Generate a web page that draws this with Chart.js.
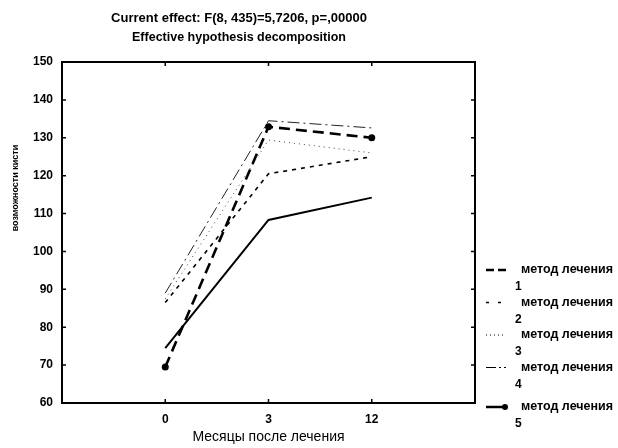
<!DOCTYPE html>
<html>
<head>
<meta charset="utf-8">
<script src="https://cdn.jsdelivr.net/npm/chart.js@4.4.1/dist/chart.umd.min.js"></script>
<style>
  html, body { margin: 0; padding: 0; background: #fff; }
  #wrap { width: 618px; height: 448px; position: relative; }
</style>
</head>
<body>
<div id="wrap"><canvas id="c"></canvas></div>
<script>
// categories (months after treatment) and the five series
const months = ['0', '3', '12'];
const method1 = [74.5, 108.3, 114.2];
const method2 = [86.5, 120.5, 125.0];
const method3 = [87.5, 129.4, 126.0];
const method4 = [89.0, 134.5, 132.6];
const method5 = [69.5, 132.9, 130.0];
const seriesNames = ['метод лечения', 'метод лечения', 'метод лечения', 'метод лечения', 'метод лечения'];
const seriesNums = ['1', '2', '3', '4', '5'];
const yTicks = [60, 70, 80, 90, 100, 110, 120, 130, 140, 150];

const FONT = '"Liberation Sans", Arial, sans-serif';

const toPoints = arr => arr.map((v, i) => ({ x: i, y: v }));

// Title lines and the y-axis caption
const header = {
  id: 'header',
  afterDraw(chart) {
    const ctx = chart.ctx;
    ctx.save();
    ctx.fillStyle = '#000';
    ctx.textAlign = 'center';
    ctx.textBaseline = 'middle';
    ctx.font = 'bold 13px ' + FONT;
    ctx.fillText('Current effect: F(8, 435)=5,7206, p=,00000', 239, 18);
    ctx.font = 'bold 12.5px ' + FONT;
    ctx.fillText('Effective hypothesis decomposition', 239, 38);
    ctx.translate(16, 188);
    ctx.rotate(-Math.PI / 2);
    ctx.font = 'bold 9px ' + FONT;
    ctx.fillText('возможности кисти', 0, 0);
    ctx.restore();
  }
};

// Box round the plot plus the short inward tick marks
const frame = {
  id: 'frame',
  afterDatasetsDraw(chart) {
    const { ctx, chartArea: a, scales: { x, y } } = chart;
    ctx.save();
    ctx.strokeStyle = '#000';
    ctx.lineWidth = 2;
    ctx.strokeRect(a.left, a.top, a.right - a.left, a.bottom - a.top);
    ctx.lineWidth = 1.5;
    ctx.beginPath();
    yTicks.forEach(v => {
      const py = y.getPixelForValue(v);
      ctx.moveTo(a.left, py); ctx.lineTo(a.left + 4, py);
      ctx.moveTo(a.right, py); ctx.lineTo(a.right - 4, py);
    });
    months.forEach((m, i) => {
      const px = x.getPixelForValue(i);
      ctx.moveTo(px, a.bottom); ctx.lineTo(px, a.bottom - 4);
      ctx.moveTo(px, a.top); ctx.lineTo(px, a.top + 4);
    });
    ctx.stroke();
    ctx.restore();
  }
};

// Two-line legend entries to the right of the plot
const sideLegend = {
  id: 'sideLegend',
  afterDraw(chart) {
    const ctx = chart.ctx;
    ctx.save();
    chart.data.datasets.forEach((ds, i) => {
      const rowY = 270 + i * 32.5 + (i === 4 ? 7 : 0);
      ctx.strokeStyle = '#000';
      ctx.lineWidth = ds.legendWidth;
      ctx.setLineDash(ds.legendDash);
      ctx.beginPath();
      ctx.moveTo(486, rowY);
      ctx.lineTo(506, rowY);
      ctx.stroke();
      ctx.setLineDash([]);
      if (ds.legendMarker) {
        ctx.fillStyle = '#000';
        ctx.beginPath();
        ctx.arc(505, rowY, 3, 0, Math.PI * 2);
        ctx.fill();
      }
      ctx.fillStyle = '#000';
      ctx.textAlign = 'left';
      ctx.textBaseline = 'middle';
      ctx.font = 'bold 12.5px ' + FONT;
      ctx.fillText(seriesNames[i], 521, rowY);
      ctx.font = 'bold 12px ' + FONT;
      ctx.fillText(seriesNums[i], 515, rowY + 17);
    });
    ctx.restore();
  }
};

const ctx = document.getElementById('c').getContext('2d');
new Chart(ctx, {
  type: 'line',
  data: {
    datasets: [
      { label: seriesNames[0] + ' ' + seriesNums[0], data: toPoints(method1), borderColor: '#000', borderWidth: 2,
        pointRadius: 0, legendDash: [8, 4], legendWidth: 2.5 },
      { label: seriesNames[1] + ' ' + seriesNums[1], data: toPoints(method2), borderColor: '#000', borderWidth: 1.6,
        borderDash: [4, 5], pointRadius: 0, legendDash: [3, 9], legendWidth: 1.5 },
      { label: seriesNames[2] + ' ' + seriesNums[2], data: toPoints(method3), borderColor: '#444', borderWidth: 1,
        borderDash: [1, 4], pointRadius: 0, legendDash: [1, 3], legendWidth: 1 },
      { label: seriesNames[3] + ' ' + seriesNums[3], data: toPoints(method4), borderColor: '#222', borderWidth: 1,
        borderDash: [12, 4, 2, 4], pointRadius: 0, legendDash: [10, 3, 2, 3], legendWidth: 1 },
      { label: seriesNames[4] + ' ' + seriesNums[4], data: toPoints(method5), borderColor: '#000', borderWidth: 2.6,
        borderDash: [11, 6], pointRadius: 3.5, pointBackgroundColor: '#000', pointBorderWidth: 0,
        legendDash: [], legendWidth: 2.5, legendMarker: true }
    ]
  },
  options: {
    responsive: true,
    maintainAspectRatio: false,
    animation: false,
    layout: { padding: { top: 62, right: 143, left: 0, bottom: 0 } },
    plugins: { legend: { display: false }, tooltip: { enabled: false } },
    scales: {
      x: {
        type: 'linear', min: -1, max: 3,
        afterBuildTicks: s => { s.ticks = months.map((m, i) => ({ value: i })); },
        afterFit: s => { s.height = 45; },
        grid: { display: false, drawTicks: false },
        border: { display: false },
        ticks: {
          padding: 9, color: '#000', font: { family: FONT, size: 12, weight: 'bold' },
          callback: v => months[v] ?? ''
        },
        title: {
          display: true, text: 'Месяцы после лечения', color: '#000',
          font: { family: FONT, size: 14 }, padding: { top: 2, bottom: 2 }
        }
      },
      y: {
        min: 60, max: 150,
        afterBuildTicks: s => { s.ticks = yTicks.map(v => ({ value: v })); },
        afterFit: s => { s.width = 62; },
        grid: { display: false, drawTicks: false },
        border: { display: false },
        ticks: { padding: 9, color: '#000', font: { family: FONT, size: 12, weight: 'bold' } }
      }
    }
  },
  plugins: [header, frame, sideLegend]
});
</script>
</body>
</html>
